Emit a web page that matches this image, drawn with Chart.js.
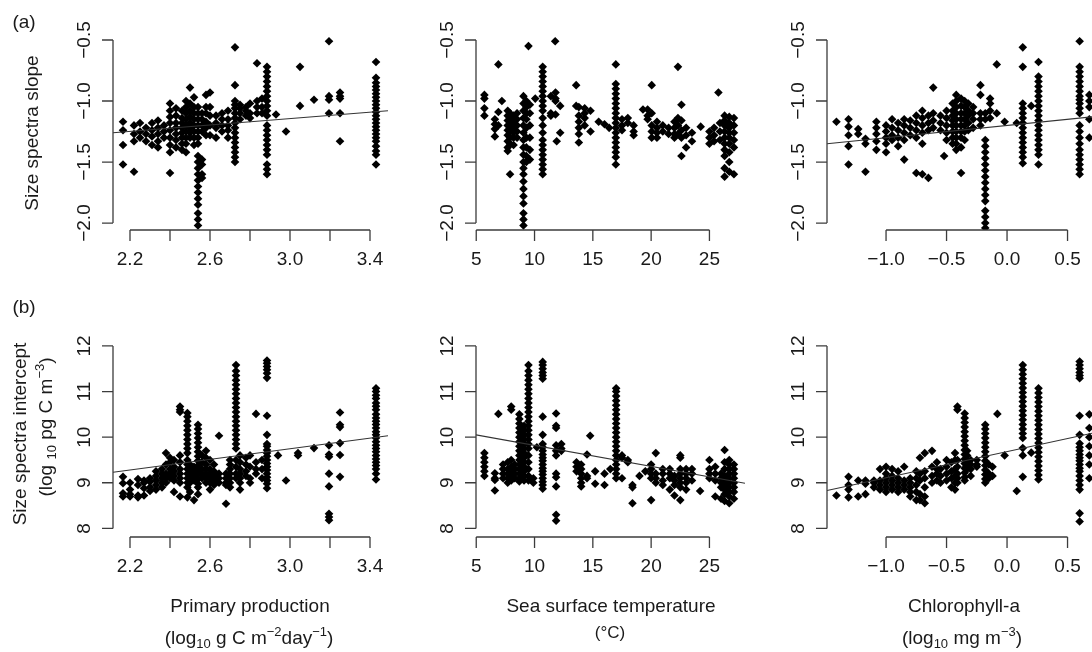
<!DOCTYPE html>
<html>
<head>
<meta charset="utf-8">
<script src="https://cdn.jsdelivr.net/npm/chart.js@4.4.0/dist/chart.umd.min.js"></script>
<style>
  body { margin: 0; background: #fff; }
  #wrap { position: relative; width: 1092px; height: 652px; overflow: hidden; background: #fff;
          color: #1a1a1a; font-family: "Liberation Sans", Arial, sans-serif; }
  #wrap canvas { position: absolute; left: 0; top: 0; }
  .t { position: absolute; transform: translate(-50%, -50%); white-space: nowrap; font-size: 19px; line-height: 1; }
  .r { transform: translate(-50%, -50%) rotate(-90deg); }
  sub, sup { font-size: 13px; line-height: 0; }
</style>
</head>
<body>
<div id="wrap">
  <canvas id="p1" width="1110" height="652"></canvas>
  <canvas id="p2" width="1110" height="652"></canvas>
  <canvas id="p3" width="1110" height="652"></canvas>
  <canvas id="p4" width="1110" height="652"></canvas>
  <canvas id="p5" width="1110" height="652"></canvas>
  <canvas id="p6" width="1110" height="652"></canvas>

  <div class="t" style="left:24px;top:21px">(a)</div>
  <div class="t" style="left:24px;top:306px">(b)</div>
  <div class="t r" style="left:31px;top:133px">Size spectra slope</div>
  <div class="t r" style="left:19px;top:434px">Size spectra intercept</div>
  <div class="t r" style="left:45px;top:427px">(log <sub>10</sub> pg C m<sup>−3</sup>)</div>
  <div class="t" style="left:250px;top:605px">Primary production</div>
  <div class="t" style="left:249px;top:637px">(log<sub>10</sub> g C m<sup>−2</sup>day<sup>−1</sup>)</div>
  <div class="t" style="left:611px;top:605px">Sea surface temperature</div>
  <div class="t" style="left:610px;top:632px;font-size:17px">(°C)</div>
  <div class="t" style="left:964px;top:605px">Chlorophyll-a</div>
  <div class="t" style="left:962px;top:637px">(log<sub>10</sub> mg m<sup>−3</sup>)</div>
</div>
<script>
// tick values and labels
const ppTicks = [2.2, 2.4, 2.6, 2.8, 3.0, 3.2, 3.4];
const ppTickLabels = ['2.2', '', '2.6', '', '3.0', '', '3.4'];
const sstTicks = [5, 10, 15, 20, 25];
const sstTickLabels = ['5', '10', '15', '20', '25'];
const chlTicks = [-1.0, -0.5, 0.0, 0.5];
const chlTickLabels = ['−1.0', '−0.5', '0.0', '0.5'];
const slopeTicks = [-2.0, -1.5, -1.0, -0.5];
const slopeTickLabels = ['−2.0', '−1.5', '−1.0', '−0.5'];
const interceptTicks = [8, 9, 10, 11, 12];
const interceptTickLabels = ['8', '9', '10', '11', '12'];

// points, grouped by x: [x, [y, y, ...]]
const ppSlope = [
  [2.165, [-1.17, -1.24, -1.36, -1.52]],
  [2.22, [-1.20, -1.27, -1.33, -1.58]],
  [2.25, [-1.18, -1.25, -1.30]],
  [2.28, [-1.22, -1.27, -1.33]],
  [2.31, [-1.18, -1.24, -1.29, -1.36]],
  [2.34, [-1.16, -1.22, -1.27, -1.33, -1.38]],
  [2.37, [-1.20, -1.25, -1.30]],
  [2.40, [-1.02, -1.08, -1.13, -1.18, -1.24, -1.30, -1.36, -1.42, -1.59]],
  [2.43, [-1.06, -1.12, -1.18, -1.22, -1.27, -1.32, -1.38]],
  [2.46, [-1.08, -1.14, -1.18, -1.22, -1.26, -1.30, -1.35, -1.40]],
  [2.48, [-1.00, -1.05, -1.10, -1.15, -1.20, -1.25, -1.30, -1.35, -1.42]],
  [2.50, [-0.89, -1.02, -1.08, -1.13, -1.18, -1.22, -1.26, -1.30]],
  [2.52, [-0.97, -1.05, -1.10, -1.15, -1.20, -1.25, -1.30, -1.36]],
  [2.54, [-1.05, -1.10, -1.15, -1.20, -1.25, -1.30, -1.35, -1.45, -1.50, -1.55, -1.60, -1.65, -1.70, -1.75, -1.80, -1.85, -1.92, -1.97, -2.02]],
  [2.56, [-1.10, -1.15, -1.20, -1.25, -1.48, -1.52, -1.60, -1.63]],
  [2.58, [-0.95, -1.05, -1.10, -1.17, -1.22, -1.28]],
  [2.60, [-0.93, -1.05, -1.12, -1.20, -1.28]],
  [2.63, [-1.12, -1.18, -1.22, -1.30]],
  [2.66, [-1.10, -1.15, -1.20, -1.25]],
  [2.69, [-1.08, -1.15, -1.20, -1.24, -1.30]],
  [2.725, [-0.56, -0.87, -1.00, -1.03, -1.06, -1.10, -1.14, -1.18, -1.22, -1.26, -1.30, -1.34, -1.38, -1.42, -1.46, -1.50]],
  [2.75, [-1.03, -1.06, -1.10, -1.15]],
  [2.78, [-1.05, -1.08, -1.12]],
  [2.80, [-1.02, -1.10, -1.14]],
  [2.835, [-0.69, -1.00, -1.05, -1.10]],
  [2.86, [-0.98, -1.05, -1.10]],
  [2.885, [-0.72, -0.76, -0.80, -0.84, -0.88, -0.92, -0.96, -1.00, -1.04, -1.08, -1.12, -1.20, -1.24, -1.28, -1.32, -1.36, -1.40, -1.44, -1.52, -1.56, -1.60]],
  [2.93, [-1.11]],
  [2.98, [-1.25]],
  [3.05, [-0.72, -1.04]],
  [3.12, [-0.99]],
  [3.195, [-0.51, -0.96, -0.99, -1.10]],
  [3.25, [-0.93, -0.96, -0.98, -1.10, -1.33]],
  [3.43, [-0.68, -0.81, -0.85, -0.88, -0.91, -0.94, -0.97, -1.00, -1.03, -1.06, -1.09, -1.12, -1.15, -1.18, -1.21, -1.24, -1.27, -1.30, -1.33, -1.37, -1.41, -1.44, -1.52]]
];

const sstSlope = [
  [5.7, [-0.95, -0.98, -1.06, -1.12]],
  [6.6, [-1.15, -1.19, -1.23, -1.29]],
  [6.9, [-0.70, -1.09, -1.20]],
  [7.2, [-1.00]],
  [7.7, [-1.08, -1.12, -1.16, -1.20, -1.24, -1.28, -1.33, -1.38, -1.41]],
  [7.9, [-1.10, -1.15, -1.20, -1.25, -1.30, -1.35, -1.60]],
  [8.2, [-1.12, -1.18, -1.22, -1.26, -1.30, -1.36]],
  [8.5, [-1.10, -1.15, -1.20, -1.25, -1.30]],
  [9.05, [-0.96, -1.02, -1.08, -1.14, -1.20, -1.26, -1.32, -1.38, -1.44, -1.50, -1.55, -1.60, -1.66, -1.72, -1.78, -1.84, -1.92, -1.97, -2.02]],
  [9.3, [-1.00, -1.05, -1.10, -1.15, -1.22, -1.30, -1.38, -1.45, -1.50]],
  [9.48, [-0.55]],
  [9.6, [-1.03, -1.10, -1.20, -1.30, -1.40, -1.48]],
  [10.06, [-0.98]],
  [10.7, [-0.72, -0.76, -0.80, -0.84, -0.88, -0.92, -0.96, -1.00, -1.04, -1.08, -1.14, -1.20, -1.26, -1.32, -1.36, -1.40, -1.44, -1.48, -1.52, -1.56, -1.60]],
  [11.4, [-0.96, -1.10, -1.12]],
  [11.77, [-0.51]],
  [11.8, [-0.93, -0.98, -1.00, -1.11]],
  [11.9, [-1.33]],
  [12.2, [-1.04, -1.26]],
  [13.57, [-0.87, -1.04]],
  [13.8, [-1.05, -1.12, -1.17, -1.22, -1.27, -1.34]],
  [14.3, [-1.06, -1.10, -1.14, -1.20]],
  [14.8, [-1.08, -1.25]],
  [15.5, [-1.17]],
  [16.0, [-1.19]],
  [16.4, [-1.22]],
  [16.97, [-0.70, -0.86, -0.90, -0.94, -0.98, -1.02, -1.06, -1.10, -1.14, -1.18, -1.22, -1.26, -1.30, -1.34, -1.38, -1.42, -1.46, -1.52]],
  [17.5, [-1.15, -1.20, -1.24]],
  [18.0, [-1.14, -1.18]],
  [18.5, [-1.20, -1.25, -1.28]],
  [19.3, [-1.07]],
  [19.7, [-1.07, -1.12, -1.15]],
  [20.05, [-0.87, -1.10, -1.20, -1.25, -1.30]],
  [20.5, [-1.17, -1.22, -1.26, -1.30]],
  [21.0, [-1.20, -1.25]],
  [21.5, [-1.22, -1.27]],
  [22.0, [-1.17, -1.22, -1.27, -1.30]],
  [22.3, [-0.72, -1.14, -1.20, -1.27]],
  [22.6, [-1.03, -1.16, -1.24, -1.30, -1.45]],
  [23.0, [-1.22, -1.28, -1.38]],
  [23.5, [-1.26, -1.33]],
  [24.25, [-1.21]],
  [25.0, [-1.25, -1.30, -1.35]],
  [25.4, [-1.22, -1.28, -1.33]],
  [25.77, [-0.93]],
  [25.9, [-1.18, -1.25, -1.32]],
  [26.3, [-1.12, -1.16, -1.20, -1.25, -1.30, -1.35, -1.40, -1.45, -1.55, -1.62]],
  [26.7, [-1.13, -1.18, -1.22, -1.26, -1.30, -1.35, -1.42, -1.50, -1.58]],
  [27.1, [-1.14, -1.20, -1.26, -1.32, -1.38, -1.60]]
];

const chlSlope = [
  [-1.41, [-1.17]],
  [-1.31, [-1.15, -1.21, -1.28, -1.37, -1.52]],
  [-1.23, [-1.23, -1.27]],
  [-1.17, [-1.31, -1.35, -1.58]],
  [-1.08, [-1.17, -1.22, -1.27, -1.33, -1.40]],
  [-1.00, [-1.20, -1.25, -1.30, -1.35, -1.42]],
  [-0.95, [-1.15, -1.22, -1.28, -1.32]],
  [-0.90, [-1.18, -1.24, -1.30, -1.37]],
  [-0.85, [-1.15, -1.20, -1.26, -1.32, -1.48]],
  [-0.80, [-1.16, -1.22, -1.28]],
  [-0.75, [-1.12, -1.18, -1.24, -1.30, -1.59]],
  [-0.70, [-1.08, -1.14, -1.20, -1.26, -1.35, -1.60]],
  [-0.65, [-1.12, -1.18, -1.24, -1.63]],
  [-0.61, [-0.89, -1.10, -1.16, -1.22]],
  [-0.55, [-1.12, -1.18, -1.24]],
  [-0.52, [-1.45]],
  [-0.50, [-1.08, -1.14, -1.20, -1.26, -1.32]],
  [-0.45, [-1.02, -1.08, -1.12, -1.16, -1.20, -1.25, -1.30, -1.35]],
  [-0.42, [-0.95, -1.00, -1.05, -1.10, -1.15, -1.20, -1.25, -1.30, -1.35, -1.40]],
  [-0.38, [-0.98, -1.04, -1.10, -1.15, -1.20, -1.25, -1.30, -1.38, -1.59]],
  [-0.35, [-1.00, -1.05, -1.10, -1.15, -1.20, -1.25, -1.32]],
  [-0.32, [-1.02, -1.08, -1.12, -1.18, -1.24]],
  [-0.28, [-1.05, -1.10, -1.15, -1.22]],
  [-0.22, [-0.87, -0.95, -1.10, -1.15, -1.20]],
  [-0.18, [-1.10, -1.15, -1.32, -1.37, -1.42, -1.47, -1.52, -1.57, -1.62, -1.67, -1.72, -1.77, -1.82, -1.90, -1.95, -2.00, -2.04]],
  [-0.14, [-0.98, -1.02, -1.08, -1.14]],
  [-0.085, [-0.70, -1.10]],
  [-0.02, [-1.17]],
  [0.08, [-1.18]],
  [0.13, [-0.56, -0.72, -1.02, -1.06, -1.10, -1.14, -1.18, -1.22, -1.26, -1.30, -1.34, -1.38, -1.42, -1.46, -1.51]],
  [0.20, [-1.04]],
  [0.26, [-0.68, -0.80, -0.84, -0.88, -0.92, -0.96, -1.00, -1.04, -1.08, -1.12, -1.16, -1.20, -1.24, -1.28, -1.32, -1.36, -1.40, -1.44, -1.52]],
  [0.60, [-0.51, -0.72, -0.76, -0.80, -0.84, -0.88, -0.92, -0.96, -0.99, -1.02, -1.06, -1.10, -1.20, -1.25, -1.30, -1.35, -1.40, -1.44, -1.48, -1.52, -1.56, -1.60]],
  [0.68, [-0.95, -1.00, -1.05, -1.15, -1.30]]
];

const ppIntercept = [
  [2.165, [9.13, 8.99, 8.77, 8.70]],
  [2.20, [8.70, 8.75, 8.85, 9.00]],
  [2.24, [8.68, 8.72, 8.95, 9.08]],
  [2.27, [8.72, 8.88, 9.00, 9.05]],
  [2.30, [8.82, 8.90, 9.02, 9.10]],
  [2.33, [8.85, 8.95, 9.05, 9.15, 9.25]],
  [2.36, [8.90, 9.00, 9.10, 9.20, 9.30]],
  [2.38, [9.00, 9.10, 9.20, 9.40, 9.65]],
  [2.40, [9.10, 9.20, 9.30, 9.45, 9.55]],
  [2.42, [8.80, 9.05, 9.15, 9.25, 9.35, 9.50]],
  [2.45, [10.67, 10.60, 10.55, 9.60, 9.45, 9.30, 9.20, 9.10, 9.00, 8.70]],
  [2.487, [10.53, 10.45, 10.35, 10.25, 10.15, 10.05, 9.95, 9.85, 9.75, 9.65, 9.50, 9.40, 9.30, 9.20, 9.10, 9.00, 8.90, 8.68]],
  [2.50, [8.80, 9.00, 9.10, 9.20, 9.30, 9.40]],
  [2.52, [8.62, 9.05, 9.15, 9.25, 9.35]],
  [2.54, [10.27, 10.18, 10.08, 9.98, 9.88, 9.78, 9.68, 9.58, 9.48, 9.38, 9.28, 9.18, 9.08, 8.98, 8.90, 8.75]],
  [2.56, [9.10, 9.20, 9.30, 9.45, 9.60]],
  [2.58, [9.00, 9.10, 9.20, 9.30, 9.40, 9.55, 9.70]],
  [2.60, [8.85, 9.00, 9.10, 9.20, 9.30, 9.50]],
  [2.62, [8.95, 9.05, 9.15, 9.25, 9.40]],
  [2.645, [10.03, 9.00, 9.10, 9.20]],
  [2.68, [8.54, 8.95, 9.00, 9.10, 9.20]],
  [2.70, [8.90, 9.00, 9.10, 9.20, 9.30, 9.40, 9.50]],
  [2.73, [11.58, 11.45, 11.35, 11.25, 11.15, 11.05, 10.95, 10.85, 10.75, 10.65, 10.55, 10.45, 10.35, 10.25, 10.15, 10.05, 9.95, 9.85, 9.75, 9.50, 9.35, 9.20, 9.10]],
  [2.75, [8.85, 9.00, 9.10, 9.20, 9.30, 9.45, 9.60]],
  [2.78, [9.15, 9.25, 9.40, 9.55]],
  [2.80, [9.00, 9.10, 9.35, 9.60]],
  [2.83, [10.51, 9.20, 9.30, 9.45]],
  [2.86, [9.10, 9.30, 9.50]],
  [2.885, [11.68, 11.62, 11.55, 11.48, 11.40, 11.30, 10.47, 10.05, 9.85, 9.80, 9.72, 9.65, 9.58, 9.50, 9.42, 9.35, 9.28, 9.20, 9.12, 9.05, 8.98, 8.88]],
  [2.94, [9.60]],
  [2.98, [9.05]],
  [3.04, [9.60, 9.65]],
  [3.12, [9.76]],
  [3.195, [9.82, 9.62, 9.57, 9.20, 8.92, 8.32, 8.25, 8.18]],
  [3.25, [10.54, 10.27, 10.22, 9.87, 9.61, 9.13]],
  [3.43, [11.07, 11.00, 10.92, 10.85, 10.75, 10.68, 10.60, 10.50, 10.42, 10.35, 10.28, 10.20, 10.12, 10.05, 9.98, 9.90, 9.82, 9.75, 9.68, 9.60, 9.52, 9.45, 9.38, 9.30, 9.20, 9.07]]
];

const sstIntercept = [
  [5.7, [9.65, 9.55, 9.45, 9.35, 9.25, 9.15]],
  [6.6, [9.21, 9.10, 9.06, 8.83]],
  [6.9, [10.51]],
  [7.3, [9.10, 9.20, 9.30, 9.40]],
  [7.7, [9.00, 9.10, 9.20, 9.30, 9.45]],
  [8.0, [10.67, 10.60, 9.05, 9.15, 9.25, 9.35, 9.50]],
  [8.3, [9.10, 9.20, 9.30, 9.40]],
  [8.7, [10.50, 10.40, 10.30, 10.20, 10.10, 10.00, 9.90, 9.80, 9.70, 9.60, 9.50, 9.40, 9.30, 9.20, 9.10, 9.03]],
  [9.1, [10.25, 10.15, 10.05, 9.95, 9.85, 9.75, 9.65, 9.55, 9.45, 9.35, 9.25, 9.15, 9.05]],
  [9.48, [11.58, 11.45, 11.35, 11.25, 11.15, 11.05, 10.95, 10.85, 10.75, 10.65, 10.55, 10.45, 10.35, 10.25, 10.15, 10.05, 9.95, 9.85, 9.75, 9.60, 9.45, 9.30, 9.15, 9.05]],
  [9.9, [9.00, 9.10]],
  [10.2, [9.78]],
  [10.7, [11.65, 11.58, 11.50, 11.42, 11.35, 11.28, 10.45, 10.05, 9.85, 9.78, 9.70, 9.62, 9.55, 9.48, 9.40, 9.32, 9.25, 9.18, 9.10, 9.02, 8.95, 8.87]],
  [11.85, [10.52, 10.25, 10.20, 9.82, 9.70, 9.60, 9.20, 9.12, 8.92, 8.30, 8.17]],
  [12.3, [9.85, 9.75, 9.70]],
  [13.6, [9.45, 9.35, 9.25]],
  [14.0, [9.40, 9.30, 9.20, 9.10, 9.00, 8.92]],
  [14.5, [9.62, 9.15, 9.10]],
  [14.77, [10.03]],
  [15.2, [9.25, 8.98]],
  [16.0, [9.20, 8.95]],
  [16.5, [9.30]],
  [17.0, [11.07, 11.00, 10.90, 10.80, 10.70, 10.60, 10.50, 10.40, 10.30, 10.20, 10.10, 10.00, 9.90, 9.80, 9.70, 9.60, 9.50, 9.40, 9.30, 9.20, 9.10]],
  [17.5, [9.60, 9.55, 9.10]],
  [18.0, [9.50, 9.45]],
  [18.4, [8.55, 8.95, 8.90]],
  [19.0, [9.15]],
  [19.5, [9.25]],
  [20.0, [9.40, 9.30, 9.20, 9.10, 8.62]],
  [20.4, [9.65, 9.20, 9.10, 9.00]],
  [21.0, [9.30, 9.20, 9.05, 8.95]],
  [21.6, [9.30, 9.20, 9.10, 8.85]],
  [22.0, [9.15, 9.05, 8.95, 8.72]],
  [22.5, [9.60, 9.55, 9.30, 9.20, 9.10, 9.00, 8.90, 8.62]],
  [23.0, [9.30, 9.20, 9.10, 9.00, 8.85]],
  [23.5, [9.30, 9.20, 9.05]],
  [24.2, [8.82]],
  [25.0, [9.50, 9.30, 9.20, 9.10]],
  [25.5, [9.35, 9.20, 9.05, 8.70]],
  [26.0, [9.20, 9.10, 9.00, 8.90, 8.65]],
  [26.3, [9.72, 9.45, 9.30, 9.15, 9.05, 8.95, 8.85, 8.75, 8.60]],
  [26.7, [9.50, 9.40, 9.30, 9.20, 9.10, 9.00, 8.90, 8.80, 8.70, 8.55]],
  [27.1, [9.40, 9.30, 9.20, 9.10, 9.00, 8.90, 8.80, 8.65]]
];

const chlIntercept = [
  [-1.41, [8.72]],
  [-1.31, [9.13, 8.95, 8.85, 8.68]],
  [-1.23, [9.05, 8.70]],
  [-1.17, [9.05, 8.98, 8.75]],
  [-1.10, [8.90, 9.00, 9.05]],
  [-1.05, [8.85, 8.95, 9.05, 9.30]],
  [-1.00, [8.80, 8.90, 9.00, 9.10, 9.20, 9.35]],
  [-0.95, [8.85, 8.95, 9.05, 9.15, 9.30]],
  [-0.90, [8.80, 8.90, 9.00, 9.10, 9.25]],
  [-0.85, [8.85, 8.95, 9.05, 9.35]],
  [-0.80, [8.70, 8.80, 8.90, 9.00, 9.10]],
  [-0.75, [8.62, 8.80, 8.95, 9.10, 9.25]],
  [-0.72, [8.62, 8.75, 9.05, 9.20, 9.55]],
  [-0.68, [8.55, 8.70, 8.90, 9.10, 9.25, 9.65]],
  [-0.62, [9.00, 9.15, 9.35, 9.70]],
  [-0.58, [9.05, 9.20, 9.30, 9.45]],
  [-0.55, [9.00, 9.15, 9.30]],
  [-0.50, [9.05, 9.20, 9.35, 9.50]],
  [-0.46, [8.90, 9.10, 9.25, 9.45]],
  [-0.43, [8.85, 9.00, 9.15, 9.30, 9.50, 9.65]],
  [-0.41, [10.67, 10.60, 9.00, 9.10, 9.20, 9.35, 9.50]],
  [-0.35, [10.52, 10.42, 10.32, 10.22, 10.12, 10.02, 9.92, 9.82, 9.72, 9.62, 9.52, 9.42, 9.32, 9.22, 9.12, 9.05]],
  [-0.33, [9.30, 9.40, 9.50, 9.60, 9.70]],
  [-0.30, [9.15, 9.30, 9.40, 9.50]],
  [-0.25, [9.35, 9.40, 9.50]],
  [-0.18, [10.27, 10.18, 10.08, 9.98, 9.88, 9.78, 9.68, 9.58, 9.48, 9.38, 9.28, 9.18, 9.08, 9.00]],
  [-0.15, [9.10, 9.20, 9.40]],
  [-0.12, [9.15, 9.35]],
  [-0.08, [10.51]],
  [-0.02, [9.60]],
  [0.08, [8.82]],
  [0.13, [11.58, 11.48, 11.38, 11.28, 11.18, 11.08, 10.98, 10.88, 10.78, 10.68, 10.58, 10.48, 10.38, 10.28, 10.18, 10.08, 9.98, 9.76, 9.60, 9.13]],
  [0.20, [9.66]],
  [0.26, [11.07, 10.97, 10.87, 10.77, 10.67, 10.57, 10.47, 10.37, 10.27, 10.17, 10.07, 9.97, 9.87, 9.77, 9.67, 9.57, 9.47, 9.37, 9.27, 9.17, 9.07]],
  [0.60, [11.66, 11.58, 11.50, 11.42, 11.35, 11.29, 10.47, 10.05, 9.86, 9.78, 9.70, 9.62, 9.55, 9.48, 9.40, 9.32, 9.25, 9.15, 9.05, 8.95, 8.85, 8.33, 8.15]],
  [0.68, [10.50, 10.20, 10.00, 9.80, 9.60, 9.40, 9.10]]
];

// fitted regression lines (end points), none for slope vs SST
const ppSlopeFit = [[2.115, -1.26], [3.49, -1.08]];
const chlSlopeFit = [[-1.488, -1.35], [0.76, -1.124]];
const ppInterceptFit = [[2.115, 9.23], [3.49, 10.03]];
const sstInterceptFit = [[4.98, 10.05], [28.05, 8.99]];
const chlInterceptFit = [[-1.488, 8.83], [0.76, 10.12]];

// plot regions (canvas is a bit wider than the page, right column is cut off like the original)
const W = 1110, H = 652;
const cols = [
  { left: 113, right: 388, min: 2.115, max: 3.49 },
  { left: 476, right: 745, min: 4.98, max: 28.05 },
  { left: 827, right: 1099, min: -1.488, max: 0.76 }
];
const rows = [
  { top: 30, bottom: 230, min: -2.057, max: -0.418 },
  { top: 340, bottom: 537, min: 7.811, max: 12.13 }
];

function flatten(groups) {
  const out = [];
  groups.forEach(([x, ys]) => ys.forEach(y => out.push({ x, y })));
  return out;
}

// R style axes: line only between first and last tick, ticks pointing out
const rAxes = {
  id: 'rAxes',
  afterDraw(chart, args, o) {
    const { ctx, chartArea: a, scales: { x, y } } = chart;
    const xs = o.xt.map(v => x.getPixelForValue(v));
    const ys = o.yt.map(v => y.getPixelForValue(v));
    ctx.save();
    ctx.strokeStyle = '#3c3c3c';
    ctx.lineWidth = 1.3;
    ctx.beginPath();
    ctx.moveTo(xs[0], a.bottom);
    ctx.lineTo(xs[xs.length - 1], a.bottom);
    xs.forEach(px => { ctx.moveTo(px, a.bottom); ctx.lineTo(px, a.bottom + 11); });
    ctx.moveTo(a.left, ys[0]);
    ctx.lineTo(a.left, ys[ys.length - 1]);
    ys.forEach(py => { ctx.moveTo(a.left, py); ctx.lineTo(a.left - 11, py); });
    ctx.stroke();

    ctx.fillStyle = '#1a1a1a';
    ctx.font = '19px "Liberation Sans", Arial, sans-serif';
    ctx.textAlign = 'center';
    ctx.textBaseline = 'middle';
    o.xl.forEach((t, i) => { if (t) ctx.fillText(t, xs[i], a.bottom + 30); });
    o.yl.forEach((t, i) => {
      ctx.save();
      ctx.translate(a.left - 28, ys[i]);
      ctx.rotate(-Math.PI / 2);
      ctx.fillText(t, 0, 0);
      ctx.restore();
    });
    ctx.restore();
  }
};

function panel(id, col, row, points, fit, xt, xl, yt, yl) {
  const datasets = [];
  if (fit) {
    datasets.push({
      data: fit.map(([x, y]) => ({ x, y })),
      showLine: true, borderColor: '#333', borderWidth: 1.1, pointRadius: 0
    });
  }
  datasets.push({
    data: flatten(points),
    pointStyle: 'rectRot', pointRadius: 4.3, backgroundColor: '#000', borderWidth: 0
  });
  new Chart(document.getElementById(id), {
    type: 'scatter',
    data: { datasets },
    options: {
      responsive: false,
      animation: false,
      events: [],
      layout: { padding: { left: col.left, right: W - col.right, top: row.top, bottom: H - row.bottom } },
      plugins: { legend: { display: false }, tooltip: { enabled: false }, rAxes: { xt, xl, yt, yl } },
      scales: {
        x: { type: 'linear', min: col.min, max: col.max, display: false },
        y: { type: 'linear', min: row.min, max: row.max, display: false }
      }
    },
    plugins: [rAxes]
  });
}

panel('p1', cols[0], rows[0], ppSlope, ppSlopeFit, ppTicks, ppTickLabels, slopeTicks, slopeTickLabels);
panel('p2', cols[1], rows[0], sstSlope, null, sstTicks, sstTickLabels, slopeTicks, slopeTickLabels);
panel('p3', cols[2], rows[0], chlSlope, chlSlopeFit, chlTicks, chlTickLabels, slopeTicks, slopeTickLabels);
panel('p4', cols[0], rows[1], ppIntercept, ppInterceptFit, ppTicks, ppTickLabels, interceptTicks, interceptTickLabels);
panel('p5', cols[1], rows[1], sstIntercept, sstInterceptFit, sstTicks, sstTickLabels, interceptTicks, interceptTickLabels);
panel('p6', cols[2], rows[1], chlIntercept, chlInterceptFit, chlTicks, chlTickLabels, interceptTicks, interceptTickLabels);
</script>
</body>
</html>
